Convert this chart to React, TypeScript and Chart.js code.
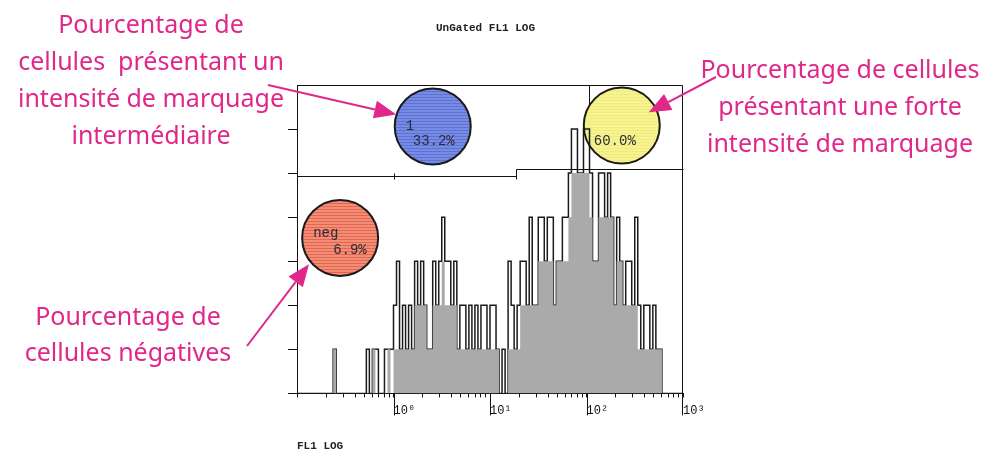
import { useEffect, useRef } from "react";
import { Chart, registerables } from "chart.js";

Chart.register(...registerables);

// ---------- data ----------
const channelsPerDecade = 32;
const xMin = 0.1;
const xMax = 1000;

// raw FL1 histogram counts per channel (black outline)
const rawCounts = [
  0, 0, 0, 0, 0, 0, 0, 0, 0, 0, 0, 0, 0, 1, 0, 0,
  0, 0, 0, 0, 0, 0, 0, 0, 1, 0, 1, 1, 0, 0, 1, 1,
  1, 2, 3, 1, 2, 1, 2, 1, 3, 2, 3, 2, 1, 1, 3, 2,
  3, 4, 3, 3, 2, 3, 1, 2, 2, 1, 2, 1, 2, 1, 2, 2,
  1, 2, 2, 1, 0, 1, 0, 3, 2, 1, 2, 3, 3, 2, 4, 2,
  2, 4, 4, 3, 4, 4, 2, 3, 3, 4, 4, 5, 6, 6, 5, 5,
  6, 6, 5, 3, 3, 5, 5, 4, 5, 4, 2, 4, 3, 2, 3, 3,
  2, 4, 2, 1, 2, 2, 1, 2, 1, 1, 0, 0, 0, 0, 0, 0,
];

// filled (grey) histogram per channel
const fillCounts = [
  0, 0, 0, 0, 0, 0, 0, 0, 0, 0, 0, 0, 0, 1, 0, 0,
  0, 0, 0, 0, 0, 0, 0, 0, 0, 0, 1, 0, 0, 0, 0, 1,
  0, 1, 1, 1, 1, 1, 1, 1, 2, 2, 2, 2, 1, 1, 2, 2,
  2, 3, 2, 2, 2, 2, 1, 1, 1, 1, 1, 1, 1, 1, 1, 1,
  1, 1, 1, 1, 0, 0, 0, 1, 1, 1, 1, 2, 2, 2, 2, 2,
  2, 3, 3, 3, 3, 3, 2, 3, 3, 3, 3, 4, 5, 5, 5, 5,
  5, 5, 4, 3, 3, 4, 4, 4, 4, 4, 2, 3, 3, 2, 2, 2,
  2, 2, 1, 1, 1, 1, 1, 1, 1, 1, 0, 0, 0, 0, 0, 0,
];

const yMax = 7;
const yTickValues = [0, 1, 2, 3, 4, 5, 6];
const decadeStarts = [0.1, 1, 10, 100];
const minorMultipliers = [1, 2, 3, 4, 5, 6, 7, 8, 9];
const majorTickValues = [1, 10, 100, 1000];
const majorTickLabels = ["10\u2070", "10\u00B9", "10\u00B2", "10\u00B3"];

const chartTitle = "UnGated FL1 LOG";
const xTitle = "FL1 LOG";

// gates (data units)
const gateIntermediate = { from: 0.1, to: 18.7, y: 4.94, mark: 1.0 };
const gateHigh = { from: 18.7, to: 1000, y: 5.1, boxLeft: 107 };

// region labels (circle centres in data units)
const regionLabels = [
  {
    x: 2.55, y: 6.06, fill: "#768be3", stripe: "#5d72d2",
    lines: [{ text: "1", dx: -27, dy: 0 }, { text: "33.2%", dx: -20, dy: 15 }],
  },
  {
    x: 232, y: 6.08, fill: "#f7f48f", stripe: "#efeb80",
    lines: [{ text: "60.0%", dx: -28, dy: 16 }],
  },
  {
    x: 0.28, y: 3.53, fill: "#f38d75", stripe: "#e3674f",
    lines: [{ text: "neg", dx: -27, dy: -5 }, { text: "6.9%", dx: -7, dy: 12 }],
  },
];

const pink = "#e0278a";
const notes = [
  { lines: ["Pourcentage de", "cellules  présentant un", "intensité de marquage", "intermédiaire"], cx: 151, baseline: 33, step: 37 },
  { lines: ["Pourcentage de cellules", "présentant une forte", "intensité de marquage"], cx: 840, baseline: 78, step: 37 },
  { lines: ["Pourcentage de", "cellules négatives"], cx: 128, baseline: 325, step: 36 },
];

// arrows: start in page pixels (next to text), tip in data units
const arrows = [
  { sx: 268, sy: 85, tipX: 1.07, tipY: 6.33 },
  { sx: 716, sy: 77, tipX: 442, tipY: 6.38 },
  { sx: 247, sy: 346, tipX: 0.133, tipY: 2.93 },
];

const mono = "'Liberation Mono', 'DejaVu Sans Mono', monospace";

const overlayPlugin = {
  id: "overlay",
  beforeDatasetsDraw(chart: any) {
    const { ctx, scales } = chart;
    const xs = scales.x;
    const ys = scales.y;
    const X = (v: number) => Math.round(xs.getPixelForValue(v)) + 0.5;
    const Y = (v: number) => Math.round(ys.getPixelForValue(v)) + 0.5;
    ctx.save();
    ctx.strokeStyle = "#111";
    ctx.lineWidth = 1;
    const y1 = Y(gateIntermediate.y);
    const y2 = Y(gateHigh.y);
    ctx.beginPath();
    ctx.moveTo(X(gateIntermediate.from), y1);
    ctx.lineTo(X(gateIntermediate.to), y1);
    ctx.moveTo(X(gateIntermediate.mark), y1 - 3);
    ctx.lineTo(X(gateIntermediate.mark), y1 + 3);
    ctx.moveTo(X(gateIntermediate.to), y2);
    ctx.lineTo(X(gateIntermediate.to), y1 + 3);
    ctx.moveTo(X(gateHigh.from), y2);
    ctx.lineTo(X(gateHigh.to), y2);
    ctx.moveTo(X(gateHigh.boxLeft), y2);
    ctx.lineTo(X(gateHigh.boxLeft), Y(yMax));
    ctx.stroke();

    const r = 38;
    for (const c of regionLabels) {
      const cx = xs.getPixelForValue(c.x);
      const cy = ys.getPixelForValue(c.y);
      ctx.save();
      ctx.beginPath();
      ctx.arc(cx, cy, r, 0, Math.PI * 2);
      ctx.fillStyle = c.fill;
      ctx.fill();
      ctx.clip();
      ctx.fillStyle = c.stripe;
      for (let yy = cy - r; yy < cy + r; yy += 3) {
        ctx.fillRect(cx - r, Math.round(yy), 2 * r, 1);
      }
      ctx.restore();
      ctx.beginPath();
      ctx.arc(cx, cy, r, 0, Math.PI * 2);
      ctx.lineWidth = 2;
      ctx.strokeStyle = "#1a1a1a";
      ctx.stroke();
      ctx.fillStyle = "#2b2b3b";
      ctx.font = `14px ${mono}`;
      ctx.textAlign = "left";
      ctx.textBaseline = "middle";
      for (const l of c.lines) ctx.fillText(l.text, cx + l.dx, cy + l.dy);
    }
    ctx.restore();
  },
  afterDatasetsDraw(chart: any) {
    const { ctx, chartArea, scales } = chart;
    const { left, right, top, bottom } = chartArea;
    ctx.save();
    ctx.strokeStyle = "#111";
    ctx.lineWidth = 1;
    ctx.beginPath();
    const L = Math.round(left) + 0.5;
    const R = Math.round(right) - 0.5;
    const T = Math.round(top) + 0.5;
    ctx.moveTo(L, T);
    ctx.lineTo(R, T);
    ctx.lineTo(R, Math.round(bottom));
    for (const v of majorTickValues) {
      const px = Math.round(scales.x.getPixelForValue(v)) + (v === xMax ? -0.5 : 0.5);
      ctx.moveTo(px, bottom);
      ctx.lineTo(px, bottom + 22);
    }
    ctx.stroke();
    ctx.restore();
  },
  afterDraw(chart: any) {
    const { ctx, scales } = chart;
    ctx.save();
    // annotation texts
    ctx.fillStyle = pink;
    ctx.font = "25px 'Noto Sans', sans-serif";
    ctx.textAlign = "center";
    ctx.textBaseline = "alphabetic";
    for (const n of notes) {
      n.lines.forEach((t, i) => ctx.fillText(t, n.cx, n.baseline + i * n.step));
    }
    // arrows
    ctx.strokeStyle = pink;
    ctx.lineWidth = 2;
    for (const a of arrows) {
      const tx = scales.x.getPixelForValue(a.tipX);
      const ty = scales.y.getPixelForValue(a.tipY);
      const ang = Math.atan2(ty - a.sy, tx - a.sx);
      const hl = 22;
      const hw = 9;
      const bx = tx - hl * Math.cos(ang);
      const by = ty - hl * Math.sin(ang);
      ctx.beginPath();
      ctx.moveTo(a.sx, a.sy);
      ctx.lineTo(bx, by);
      ctx.stroke();
      ctx.beginPath();
      ctx.moveTo(tx, ty);
      ctx.lineTo(bx + hw * Math.sin(ang), by - hw * Math.cos(ang));
      ctx.lineTo(bx - hw * Math.sin(ang), by + hw * Math.cos(ang));
      ctx.closePath();
      ctx.fillStyle = pink;
      ctx.fill();
    }
    ctx.restore();
  },
};

export default function App() {
  const ref = useRef<HTMLCanvasElement>(null);
  useEffect(() => {
    if (!ref.current) return;
    const edges = Array.from({ length: rawCounts.length + 1 }, (_, i) => xMin * Math.pow(10, i / channelsPerDecade));
    const toPoints = (arr: number[]) =>
      arr.map((c, i) => ({ x: edges[i], y: c })).concat([{ x: edges[arr.length], y: 0 }]);
    const xTicks: { value: number }[] = [];
    for (const d of decadeStarts) for (const m of minorMultipliers) xTicks.push({ value: d * m });
    xTicks.push({ value: xMax });

    const chart = new Chart(ref.current, {
      type: "line",
      data: {
        datasets: [
          {
            label: "fill",
            data: toPoints(fillCounts),
            stepped: "after",
            fill: "origin",
            backgroundColor: "#aaaaaa",
            borderColor: "rgba(0,0,0,0)",
            borderWidth: 0,
            pointRadius: 0,
          },
          {
            label: "FL1",
            data: toPoints(rawCounts),
            stepped: "after",
            fill: false,
            borderColor: "#1a1a1a",
            borderWidth: 1.5,
            pointRadius: 0,
          },
        ],
      } as any,
      options: {
        animation: false,
        responsive: false,
        layout: { padding: { left: 288, right: 303, top: 0, bottom: 6 } },
        plugins: {
          legend: { display: false },
          tooltip: { enabled: false },
          title: {
            display: true,
            text: chartTitle,
            color: "#222",
            font: { family: mono, size: 11, weight: "bold" },
            padding: { top: 22, bottom: 49.8 },
          },
        },
        scales: {
          x: {
            type: "logarithmic",
            min: xMin,
            max: xMax,
            afterBuildTicks: (s: any) => {
              s.ticks = xTicks.map((t) => ({ ...t }));
            },
            ticks: {
              autoSkip: false,
              maxRotation: 0,
              minRotation: 0,
              align: "start",
              padding: 6,
              color: "#111",
              font: { family: mono, size: 12 },
              callback: (v: any) => {
                const k = majorTickValues.indexOf(Number(v));
                return k >= 0 ? majorTickLabels[k] : "";
              },
            },
            grid: { drawOnChartArea: false, tickLength: 4, tickColor: "#111" },
            border: { color: "#111" },
            title: {
              display: true,
              text: xTitle,
              align: "start",
              color: "#222",
              font: { family: mono, size: 11, weight: "bold" },
              padding: { top: 16, bottom: 0 },
            },
          },
          y: {
            type: "linear",
            min: 0,
            max: yMax,
            afterBuildTicks: (s: any) => {
              s.ticks = yTickValues.map((v) => ({ value: v }));
            },
            ticks: { display: false },
            grid: { drawOnChartArea: false, tickLength: 9, tickColor: "#111" },
            border: { color: "#111" },
          },
        },
      } as any,
      plugins: [overlayPlugin],
    });
    return () => chart.destroy();
  }, []);

  return (
    <div style={{ position: "fixed", left: 0, top: 0, width: 986, height: 459, background: "#fff" }}>
      <canvas ref={ref} width={986} height={459} style={{ display: "block" }} />
    </div>
  );
}
